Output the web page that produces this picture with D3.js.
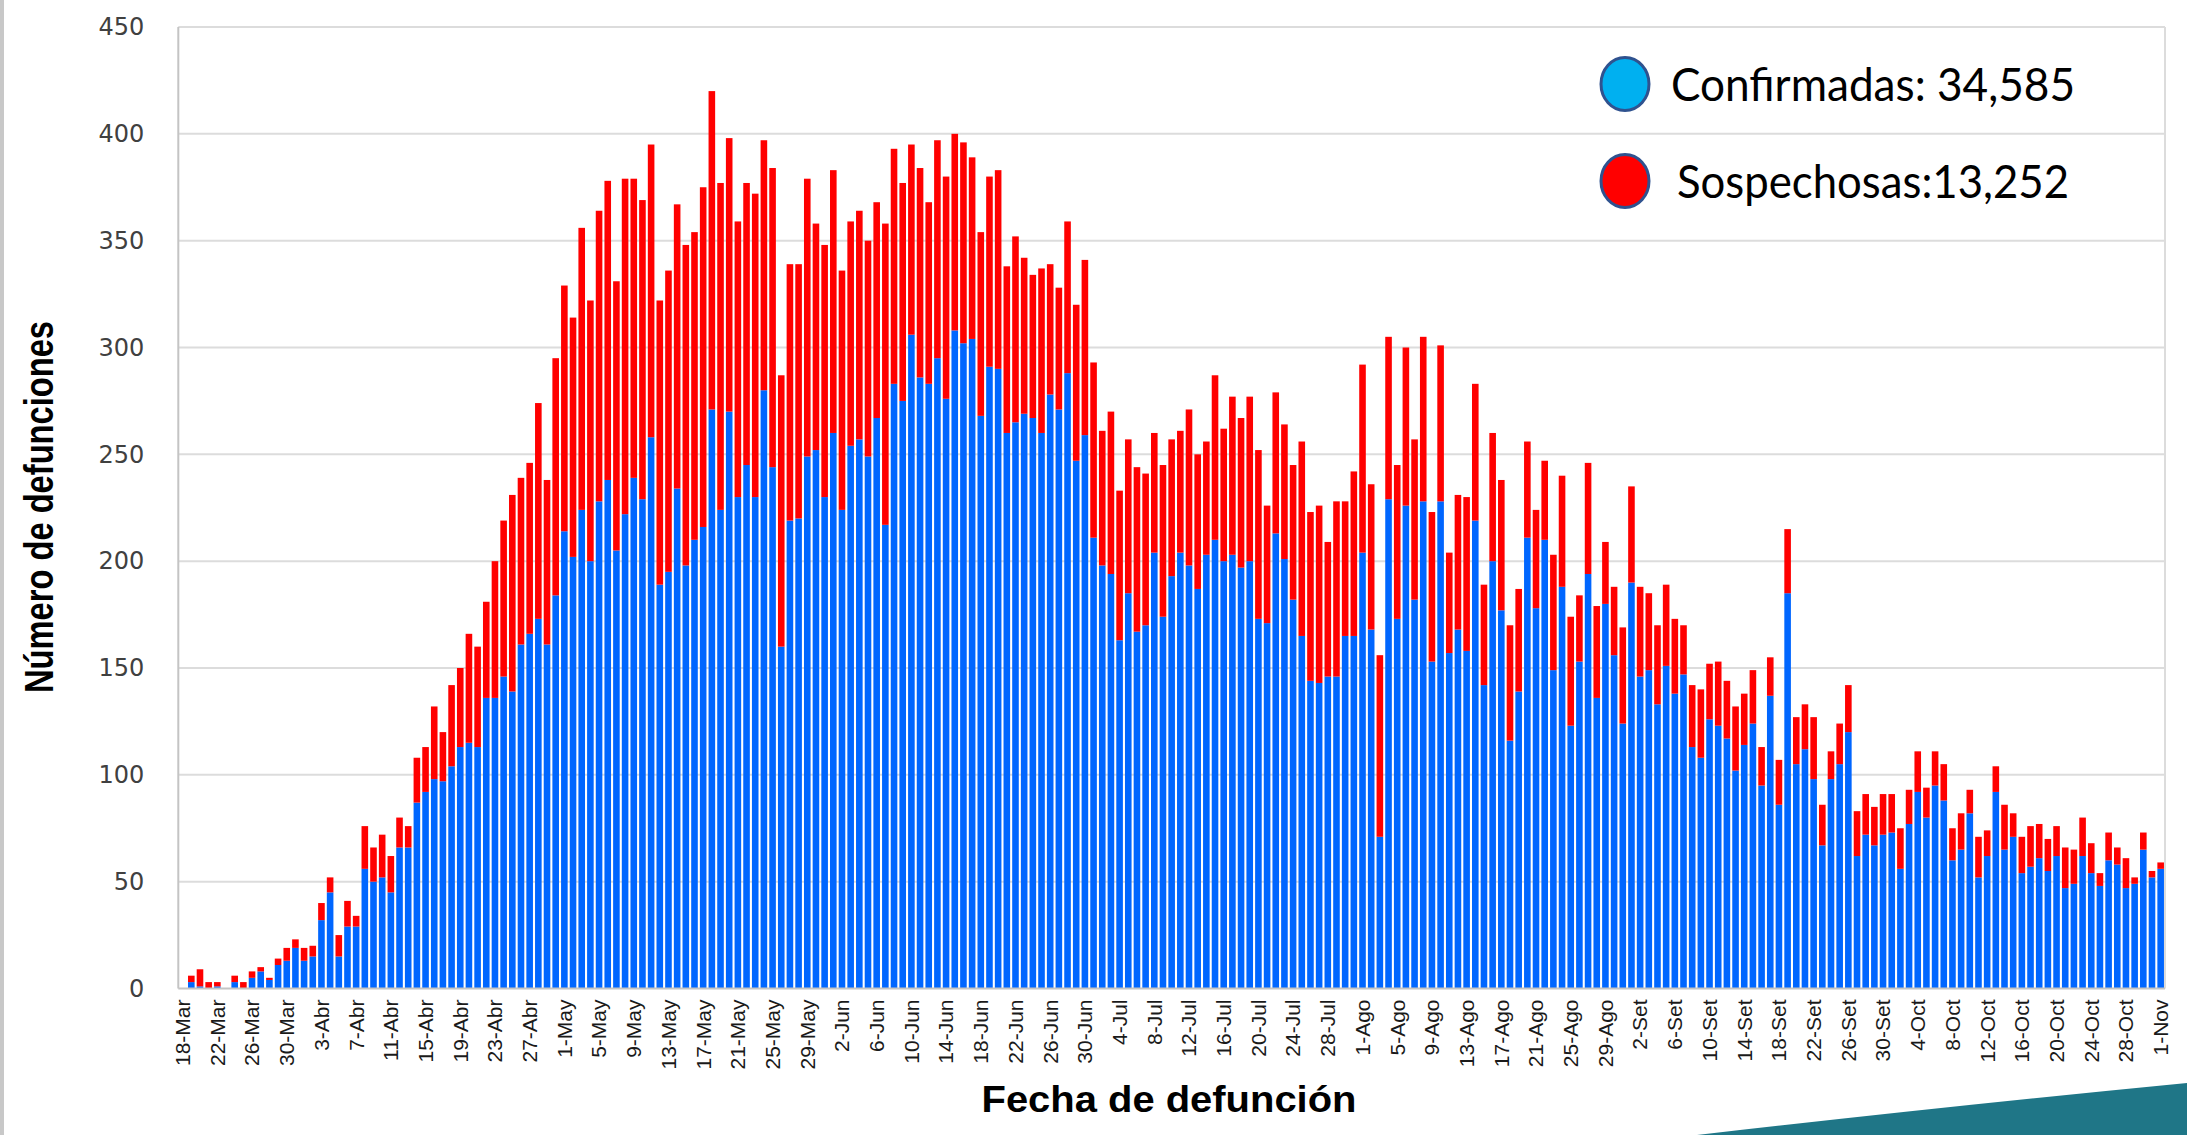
<!DOCTYPE html>
<html>
<head>
<meta charset="utf-8">
<script src="https://cdn.jsdelivr.net/npm/d3@7"></script>
<style>
  body { margin: 0; background: #fff; }
  svg { display: block; }
</style>
</head>
<body>
<svg id="chart" width="2187" height="1135"></svg>
<script>
// daily deaths, 18-Mar to 1-Nov
var confirmadas = [
  0, 3, 1, 0, 1, 0, 3, 0, 5, 8, 4, 11, 13, 19, 13, 15, 32, 45, 15, 29,
  29, 56, 50, 52, 45, 66, 66, 87, 92, 98, 97, 104, 113, 115, 113, 136, 136, 146, 139, 161,
  166, 173, 161, 184, 214, 202, 224, 200, 228, 238, 205, 222, 239, 229, 258, 189, 195, 234, 198, 210,
  216, 271, 224, 270, 230, 245, 230, 280, 244, 160, 219, 220, 249, 252, 230, 260, 224, 254, 257, 249,
  267, 217, 283, 275, 306, 286, 283, 295, 276, 308, 302, 304, 268, 291, 290, 260, 265, 269, 267, 260,
  278, 271, 288, 247, 259, 211, 198, 194, 163, 185, 167, 170, 204, 174, 193, 204, 198, 187, 203, 210,
  200, 203, 197, 200, 173, 171, 213, 201, 182, 165, 144, 143, 146, 146, 165, 165, 204, 168, 71, 229,
  173, 226, 182, 228, 153, 228, 157, 168, 158, 219, 142, 200, 177, 116, 139, 211, 178, 210, 149, 188,
  123, 153, 194, 136, 180, 156, 124, 190, 146, 149, 133, 151, 138, 147, 113, 108, 126, 123, 117, 102,
  114, 124, 95, 137, 86, 185, 105, 112, 98, 67, 98, 105, 120, 62, 72, 67, 72, 73, 56, 77,
  92, 80, 95, 88, 60, 65, 82, 52, 62, 92, 65, 71, 54, 57, 61, 55, 62, 47, 49, 62,
  54, 48, 60, 58, 47, 49, 65, 52, 56
];
var sospechosas = [
  0, 3, 8, 3, 2, 0, 3, 3, 3, 2, 1, 3, 6, 4, 6, 5, 8, 7, 10, 12,
  5, 20, 16, 20, 17, 14, 10, 21, 21, 34, 23, 38, 37, 51, 47, 45, 64, 73, 92, 78,
  80, 101, 77, 111, 115, 112, 132, 122, 136, 140, 126, 157, 140, 140, 137, 133, 141, 133, 150, 144,
  159, 149, 153, 128, 129, 132, 142, 117, 140, 127, 120, 119, 130, 106, 118, 123, 112, 105, 107, 101,
  101, 141, 110, 102, 89, 98, 85, 102, 104, 92, 94, 85, 86, 89, 93, 78, 87, 73, 67, 77,
  61, 57, 71, 73, 82, 82, 63, 76, 70, 72, 77, 71, 56, 71, 64, 57, 73, 63, 53, 77,
  62, 74, 70, 77, 79, 55, 66, 63, 63, 91, 79, 83, 63, 82, 63, 77, 88, 68, 85, 76,
  72, 74, 75, 77, 70, 73, 47, 63, 72, 64, 47, 60, 61, 54, 48, 45, 46, 37, 54, 52,
  51, 31, 52, 43, 29, 32, 45, 45, 42, 36, 37, 38, 35, 23, 29, 32, 26, 30, 27, 30,
  24, 25, 18, 18, 21, 30, 22, 21, 29, 19, 13, 19, 22, 21, 19, 18, 19, 18, 19, 16,
  19, 14, 16, 17, 15, 17, 11, 19, 12, 12, 21, 11, 17, 19, 16, 15, 14, 19, 16, 18,
  14, 6, 13, 8, 14, 3, 8, 3, 3
];
var tickLabels = [
  "18-Mar", "22-Mar", "26-Mar", "30-Mar", "3-Abr", "7-Abr", "11-Abr", "15-Abr", "19-Abr", "23-Abr",
  "27-Abr", "1-May", "5-May", "9-May", "13-May", "17-May", "21-May", "25-May", "29-May", "2-Jun",
  "6-Jun", "10-Jun", "14-Jun", "18-Jun", "22-Jun", "26-Jun", "30-Jun", "4-Jul", "8-Jul", "12-Jul",
  "16-Jul", "20-Jul", "24-Jul", "28-Jul", "1-Ago", "5-Ago", "9-Ago", "13-Ago", "17-Ago", "21-Ago",
  "25-Ago", "29-Ago", "2-Set", "6-Set", "10-Set", "14-Set", "18-Set", "22-Set", "26-Set", "30-Set",
  "4-Oct", "8-Oct", "12-Oct", "16-Oct", "20-Oct", "24-Oct", "28-Oct", "1-Nov"
];
var yTicks = [0, 50, 100, 150, 200, 250, 300, 350, 400, 450];
var legendNames = ["Confirmadas: 34,585", "Sospechosas:13,252"];

var width = 2187, height = 1135;
var plotLeft = 178.3, plotRight = 2165, plotTop = 27, plotBottom = 988.5;
var blue = "#0066ff", red = "#ff0000";

var svg = d3.select("#chart");

svg.append("rect").attr("width", width).attr("height", height).attr("fill", "#fff");
// grey slide edge on the left
svg.append("rect").attr("x", 0).attr("y", 0).attr("width", 4).attr("height", height).attr("fill", "#c8c8c8");

var x = d3.scaleBand()
  .domain(d3.range(confirmadas.length))
  .range([plotLeft, plotRight])
  .paddingInner(0.24)
  .paddingOuter(0.12);

var y = d3.scaleLinear().domain([0, 450]).range([plotBottom, plotTop]);

// gridlines
svg.append("g")
  .selectAll("line")
  .data(yTicks.slice(1))
  .enter().append("line")
  .attr("x1", plotLeft).attr("x2", plotRight)
  .attr("y1", function(d) { return y(d); })
  .attr("y2", function(d) { return y(d); })
  .attr("stroke", "#dcdcdc")
  .attr("stroke-width", 2);

svg.append("line")
  .attr("x1", plotRight).attr("x2", plotRight).attr("y1", plotTop).attr("y2", plotBottom)
  .attr("stroke", "#dcdcdc").attr("stroke-width", 2);

//bars: confirmed at bottom, suspected on top
var bars = svg.append("g");
bars.selectAll("rect.conf")
  .data(confirmadas)
  .enter().append("rect")
  .attr("class", "conf")
  .attr("x", function(d, i) { return x(i); })
  .attr("width", x.bandwidth())
  .attr("y", function(d) { return y(d); })
  .attr("height", function(d) { return y(0) - y(d); })
  .attr("fill", blue);

bars.selectAll("rect.sosp")
  .data(sospechosas)
  .enter().append("rect")
  .attr("class", "sosp")
  .attr("x", function(d, i) { return x(i); })
  .attr("width", x.bandwidth())
  .attr("y", function(d, i) { return y(confirmadas[i] + d); })
  .attr("height", function(d, i) { return y(confirmadas[i]) - y(confirmadas[i] + d); })
  .attr("fill", red);

// axis lines
svg.append("line")
  .attr("x1", plotLeft).attr("x2", plotLeft).attr("y1", plotTop).attr("y2", plotBottom)
  .attr("stroke", "#c4c4c4").attr("stroke-width", 2);
svg.append("line")
  .attr("x1", plotLeft).attr("x2", plotRight).attr("y1", plotBottom).attr("y2", plotBottom)
  .attr("stroke", "#c4c4c4").attr("stroke-width", 2);

// y axis
var yAxis = svg.append("g")
  .attr("transform", "translate(" + plotLeft + ",0)")
  .call(d3.axisLeft(y).tickValues(yTicks).tickSize(0).tickPadding(34));
yAxis.select(".domain").remove();
yAxis.selectAll("text")
  .attr("font-family", "DejaVu Sans, sans-serif")
  .attr("font-size", 24)
  .attr("fill", "#404040");

// x axis, every 4th day
var xAxis = svg.append("g")
  .attr("transform", "translate(0," + plotBottom + ")")
  .call(d3.axisBottom(x)
    .tickValues(d3.range(0, confirmadas.length, 4))
    .tickFormat(function(i) { return tickLabels[i / 4]; })
    .tickSize(0));
xAxis.select(".domain").remove();
xAxis.selectAll("text")
  .attr("transform", "rotate(-90)")
  .attr("x", -11)
  .attr("y", 0)
  .attr("dy", "0.35em")
  .attr("text-anchor", "end")
  .attr("font-family", "Liberation Sans, Arial, sans-serif")
  .attr("font-size", 21)
  .attr("fill", "#1a1a1a");

// titles
svg.append("text")
  .attr("transform", "translate(53,507) rotate(-90)")
  .attr("text-anchor", "middle")
  .attr("font-family", "Liberation Sans Narrow, Liberation Sans, sans-serif")
  .attr("font-weight", "bold")
  .attr("font-size", 40)
  .attr("textLength", 372)
  .attr("lengthAdjust", "spacingAndGlyphs")
  .attr("fill", "#000")
  .text("Número de defunciones");

svg.append("text")
  .attr("x", 1169).attr("y", 1112)
  .attr("text-anchor", "middle")
  .attr("font-family", "Liberation Sans Narrow, Liberation Sans, sans-serif")
  .attr("font-weight", "bold")
  .attr("font-size", 36)
  .attr("textLength", 375)
  .attr("lengthAdjust", "spacingAndGlyphs")
  .attr("fill", "#000")
  .text("Fecha de defunción");

// legend
var legend = svg.append("g");
var legendFill = ["#00b0f0", "#ff0000"];
var legendY = [84, 181];
var legendW = [404, 392];
legendNames.forEach(function(name, i) {
  legend.append("ellipse")
    .attr("cx", 1625).attr("cy", legendY[i])
    .attr("rx", 24).attr("ry", 26.5)
    .attr("fill", legendFill[i])
    .attr("stroke", "#2f528f")
    .attr("stroke-width", 3);
  legend.append("text")
    .attr("x", i === 0 ? 1671 : 1677)
    .attr("y", legendY[i] + 17)
    .attr("font-family", "Lato, Open Sans, sans-serif")
    .attr("font-size", 47)
    .attr("textLength", legendW[i])
    .attr("lengthAdjust", "spacingAndGlyphs")
    .attr("fill", "#000")
    .text(name);
});

// teal corner decoration
svg.append("path")
  .attr("d", "M1697,1135 Q1950,1106 2187,1083 L2187,1135 Z")
  .attr("fill", "#1f7687");
</script>
</body>
</html>
